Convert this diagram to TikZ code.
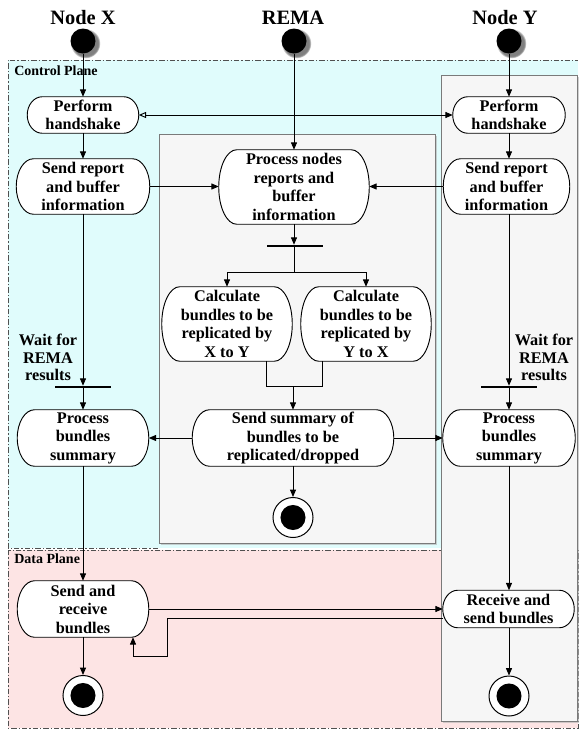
\documentclass[tikz,border=0pt]{standalone}
\usepackage{fontspec}
\setmainfont{Liberation Serif}
\usetikzlibrary{arrows.meta,shadows,calc}
\definecolor{cpfill}{HTML}{E0FCFC}
\definecolor{dpfill}{HTML}{FDE4E4}
\definecolor{boxfill}{HTML}{F6F6F6}
\definecolor{boxline}{HTML}{7A7A7A}
\definecolor{planeline}{HTML}{505050}
\pgfdeclarelayer{back}
\pgfdeclarelayer{pills}
\pgfsetlayers{back,pills,main}
% pill outline (elliptic ends) drawn round a named text node
\newcommand\pillfor[2]{%
  \path let \p1=(#1.north west), \p2=(#1.south east) in
    [draw=black, line width=0.7pt, fill=white]
    (\x1+#2,\y1) -- (\x2-#2,\y1)
    arc[start angle=90, end angle=-90, x radius=#2, y radius={(\y1-\y2)/2}]
    -- (\x1+#2,\y2)
    arc[start angle=270, end angle=90, x radius=#2, y radius={(\y1-\y2)/2}]
    -- cycle;}
\begin{document}
\begin{tikzpicture}[x=0.75pt,y=-0.75pt,
  act/.style={rectangle, align=center, inner sep=0pt,
    font=\bfseries\fontsize{12.2}{13.9}\selectfont},
  startdot/.style={circle, fill=black, minimum size=18.75pt, inner sep=0pt,
    circular drop shadow={shadow xshift=1.5pt, shadow yshift=-1.5pt, shadow scale=1.2}},
  enddot/.style={circle, draw=black, line width=0.75pt, fill=white, minimum size=30pt,
    inner sep=0pt, path picture={\fill[black] (path picture bounding box.center) circle (9.4pt);}},
  bar/.style={rectangle, fill=black, minimum width=42pt, minimum height=1.5pt, inner sep=0pt},
  arr/.style={line width=0.7pt, -{Triangle[length=5.5pt,width=4.5pt]}},
  conn/.style={line width=0.7pt},
  plane/.style={draw=planeline, line width=0.75pt, dash pattern=on 4pt off 1.5pt on 1pt off 1.5pt},
  lane/.style={draw=boxline, fill=boxfill, line width=0.75pt,
    drop shadow={shadow xshift=1.2pt, shadow yshift=-1.2pt, fill=gray!60, opacity=0.6}},
  title/.style={font=\bfseries\fontsize{15.3}{18}\selectfont, anchor=base},
  planelabel/.style={font=\bfseries\fontsize{10.5}{12}\selectfont, anchor=base west, inner sep=0pt},
  waitlabel/.style={align=center, inner sep=0pt, font=\bfseries\fontsize{12.2}{13.3}\selectfont}
]
\useasboundingbox (0,0) rectangle (579,729);
\begin{pgfonlayer}{back}
\fill[white] (0,0) rectangle (579,729);
% planes
\fill[cpfill] (8,60) rectangle (578,548);
\fill[dpfill] (8,550) rectangle (578,728);
\draw[plane] (158,548) -- (8,548) -- (8,60) -- (578,60);
\draw[plane] (8,550) rectangle (578,728);
% lanes
\path[lane] (159,134) rectangle (435.5,543.5);
\path[lane] (441,75.5) rectangle (577,721);
\end{pgfonlayer}
% labels
\node[planelabel] (cpl) at (14,75) {Control Plane};
\node[planelabel] (dpl) at (14,563) {Data Plane};
\node[title] (tX) at (83,24.5) {Node X};
\node[title] (tR) at (293,24.5) {REMA};
\node[title] (tY) at (505,24.5) {Node Y};
% start dots
\node[startdot] (sX) at (83,41) {};
\node[startdot] (sR) at (294,41) {};
\node[startdot] (sY) at (509,41) {};
% activities
\node[act, minimum width=83.25pt, minimum height=27pt] (hsX) at (83,115) {Perform\\handshake};
\node[act, minimum width=99.75pt, minimum height=41.25pt] (srX) at (83,186.5) {Send report\\and buffer\\information};
\node[act, minimum width=112.5pt, minimum height=55.5pt] (pn) at (294,187) {Process nodes\\reports and\\buffer\\information};
\node[act, minimum width=84pt, minimum height=27pt] (hsY) at (509,115) {Perform\\handshake};
\node[act, minimum width=94.5pt, minimum height=41.25pt] (srY) at (506.5,186.5) {Send report\\and buffer\\information};
\node[act, minimum width=97.5pt, minimum height=55.5pt] (cX) at (227,324) {Calculate\\bundles to be\\replicated by\\X to Y};
\node[act, minimum width=97.5pt, minimum height=55.5pt] (cY) at (366,324) {Calculate\\bundles to be\\replicated by\\Y to X};
\node[act, minimum width=150.75pt, minimum height=42pt] (ss) at (293,438) {Send summary of\\bundles to be\\replicated/dropped};
\node[act, minimum width=98.25pt, minimum height=42pt] (pbX) at (83,438) {Process\\bundles\\summary};
\node[act, minimum width=99pt, minimum height=42pt] (pbY) at (509,438) {Process\\bundles\\summary};
\node[act, minimum width=98.25pt, minimum height=42pt] (srbX) at (83,609) {Send and\\receive\\bundles};
\node[act, minimum width=98.25pt, minimum height=27.75pt] (rsY) at (508.5,609) {Receive and\\send bundles};
\begin{pgfonlayer}{pills}
\pillfor{hsX}{11.25pt}
\pillfor{hsY}{11.25pt}
\pillfor{rsY}{11.25pt}
\pillfor{srX}{13pt}
\pillfor{srY}{13pt}
\pillfor{ss}{13pt}
\pillfor{pbX}{13pt}
\pillfor{pbY}{13pt}
\pillfor{srbX}{13pt}
\pillfor{pn}{13.5pt}
\pillfor{cX}{13.5pt}
\pillfor{cY}{13.5pt}
\end{pgfonlayer}
% bars
\node[bar] (barR) at (295,246) {};
\node[bar] (barX) at (83,387) {};
\node[bar] (barY) at (509,387) {};
% wait labels
\node[waitlabel] (wX) at (48,357.5) {Wait for\\REMA\\results};
\node[waitlabel] (wY) at (544,357.5) {Wait for\\REMA\\results};
% end dots
\node[enddot] (eR) at (293,517.5) {};
\node[enddot] (eX) at (83,695.5) {};
\node[enddot] (eY) at (509,696) {};
% helper coordinates
\coordinate (fk) at (294,272);
\coordinate (jx) at (266.5,386);
\coordinate (jy) at (322,386);
\coordinate (jn) at (293,386);
\coordinate (r1) at (167,618);
\coordinate (r2) at (167,656);
\coordinate (r3) at (133,656);
% connectors: Node X
\draw[arr] (sX) -- (hsX);
\draw[arr] (hsX) -- (srX);
\draw[arr] (srX.south) -- (srX.south |- barX.north);
\draw[arr] (barX.south) -- (pbX.north);
\draw[arr] (pbX) -- (srbX);
\draw[arr] (srbX) -- (eX);
% REMA
\draw[arr] (sR) -- (sR |- pn.north);
\draw[arr] (pn.south) -- (pn.south |- barR.north);
\draw[conn] (pn.south |- barR.south) -- (fk);
\draw[conn] (cX.north |- fk) -- (cY.north |- fk);
\draw[arr] (cX.north |- fk) -- (cX.north);
\draw[arr] (cY.north |- fk) -- (cY.north);
\draw[conn] (jx |- cX.south) -- (jx) -- (jy) -- (jy |- cY.south);
\draw[arr] (jn) -- (jn |- ss.north);
\draw[arr] (ss) -- (eR);
\draw[arr] (ss.west) -- (pbX.east);
\draw[arr] (ss.east) -- (pbY.west);
% Node Y
\draw[arr] (sY) -- (hsY);
\draw[arr] (hsY.south) -- (hsY.south |- srY.north);
\draw[arr] (srY.south -| barY.north) -- (barY.north);
\draw[arr] (barY.south) -- (pbY.north);
\draw[arr] (pbY.south) -- (pbY.south |- rsY.north);
\draw[arr] (rsY.south -| eY.north) -- (eY.north);
% cross connections
\draw[line width=0.7pt, {Triangle[open,length=5.5pt,width=4.5pt]}-{Triangle[length=5.5pt,width=4.5pt]}] (hsX.east) -- (hsY.west);
\draw[arr] (srX.east) -- (srX.east -| pn.west);
\draw[arr] (srY.west) -- (srY.west -| pn.east);
\draw[arr] (srbX.east) -- (srbX.east -| rsY.west);
\draw[arr] ([yshift=-6.75pt]rsY.west) -- ([yshift=-6.75pt]rsY.west -| r1) -- (r2) -- (r3) -- (r3 |- srbX.south);
\end{tikzpicture}
\end{document}
